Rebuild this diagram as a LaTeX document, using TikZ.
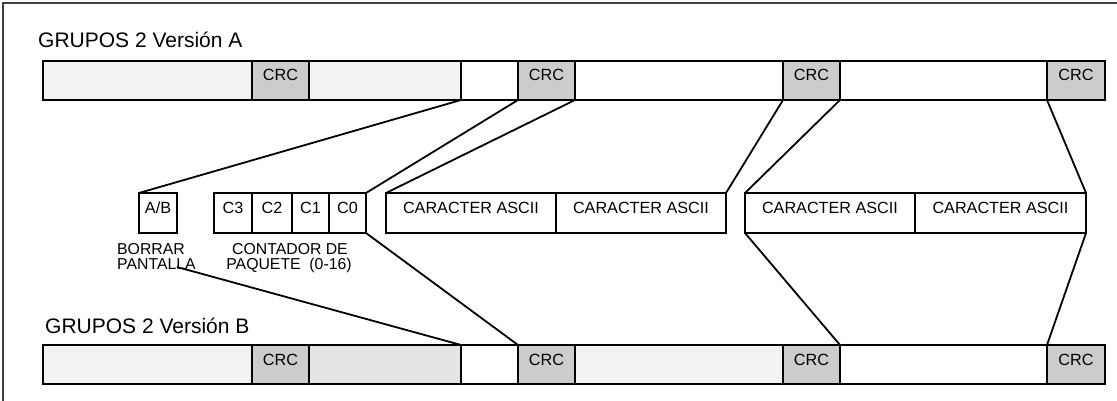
\documentclass[tikz,border=0pt]{standalone}
\usepackage{fontspec}
\setmainfont{Liberation Sans}
\definecolor{lt}{HTML}{F2F2F2}
\definecolor{md}{HTML}{E4E4E4}
\definecolor{crc}{HTML}{CCCCCC}
\begin{document}
\begin{tikzpicture}[x=1pt,y=-1pt,
  seg/.style={draw, line width=1.9pt, rectangle, inner sep=0pt, outer sep=0pt, anchor=north west},
  field/.style={seg, fill=white, minimum height=40pt},
  tag/.style={font=\fontsize{16.2}{16}\selectfont, anchor=base, inner sep=0pt},
  note/.style={font=\fontsize{15.8}{15.5}\selectfont, anchor=base, inner sep=0pt},
  title/.style={font=\fontsize{21}{21}\selectfont, anchor=base west, inner sep=0pt},
  link/.style={line width=1.8pt},
  frame/.style={line width=1.4pt, draw=black!75}]
\useasboundingbox (0,0) rectangle (1117,401);

% outer frame (only the top and left edges fall inside the page)
\draw[frame] (3,405) -- (3,3) -- (1120,3);

% group titles
\node[title] (tA) at (38,48) {GRUPOS 2 Versión A};
\node[title] (tB) at (45,333) {GRUPOS 2 Versión B};

% version A block row
\foreach \n/\xa/\xb/\c in {a1/43/252/lt, ac1/252/309/crc, a2/309/461/lt, a3/461/518/white,
    ac2/518/575/crc, a4/575/783/white, ac3/783/840/crc, a5/840/1047/white, ac4/1047/1105/crc}
  \node[seg, fill=\c, minimum width={(\xb-\xa)*1pt}, minimum height=39pt] (\n) at (\xa,61) {};

% version B block row
\foreach \n/\xa/\xb/\c in {b1/43/252/lt, bc1/252/309/crc, b2/309/461/md, b3/461/518/white,
    bc2/518/575/crc, b4/575/783/lt, bc3/783/840/crc, b5/840/1047/white, bc4/1047/1105/crc}
  \node[seg, fill=\c, minimum width={(\xb-\xa)*1pt}, minimum height=39pt] (\n) at (\xa,345) {};

\foreach \n in {ac1,ac2,ac3,ac4,bc1,bc2,bc3,bc4}
  \node[tag] at ([yshift=-20pt]\n.north) {CRC};

% detail fields
\node[field, minimum width=38pt] (ab) at (139,193) {};
\node[field, minimum width=38pt] (c3) at (214,193) {};
\node[field, minimum width=40pt] (c2) at (252,193) {};
\node[field, minimum width=37pt] (c1) at (292,193) {};
\node[field, minimum width=37pt] (c0) at (329,193) {};
\node[field, minimum width=170pt] (h1) at (386,193) {};
\node[field, minimum width=170pt] (h2) at (556,193) {};
\node[field, minimum width=170pt] (h3) at (745,193) {};
\node[field, minimum width=171pt] (h4) at (915,193) {};

\node[tag] at ([yshift=-20pt]ab.north) {A/B};
\node[tag] at ([yshift=-20pt]c3.north) {C3};
\node[tag] at ([yshift=-20pt]c2.north) {C2};
\node[tag] at ([yshift=-20pt]c1.north) {C1};
\node[tag] at ([yshift=-20pt]c0.north) {C0};
\foreach \n in {h1,h2,h3,h4}
  \node[tag] at ([yshift=-20pt]\n.north) {CARACTER ASCII};

% field captions
\node[note, anchor=base west] (bor) at (117,254) {BORRAR};
\node[note, anchor=base west] (pan) at (117,269) {PANTALLA};
\node[note] (cnt) at (290,254) {CONTADOR DE};
\node[note] (paq) at (289,269) {PAQUETE\ \ (0-16)};
\coordinate (panEnd) at (177,267);

% expansion lines from version A
\draw[link] (a3.south west) -- (ab.north west);
\draw[link] (ac2.south west) -- (c0.north east);
\draw[link] (ac2.south east) -- (h1.north west);
\draw[link] (ac3.south west) -- (h2.north east);
\draw[link] (ac3.south east) -- (h3.north west);
\draw[link] (ac4.south west) -- (h4.north east);

% mapping lines into version B
\draw[link] (panEnd) -- (b3.north west);
\draw[link] (c0.south east) -- (bc2.north west);
\draw[link] (h3.south west) -- (bc3.north east);
\draw[link] (h4.south east) -- (bc4.north west);
\end{tikzpicture}
\end{document}
